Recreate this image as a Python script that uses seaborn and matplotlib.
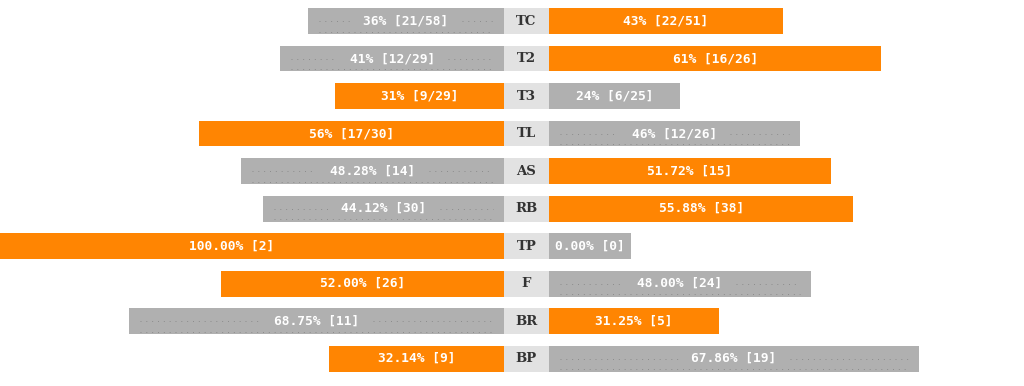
import matplotlib
matplotlib.use("Agg")
import matplotlib.pyplot as plt
import pandas as pd
import seaborn as sns

labels = ["TC", "T2", "T3", "TL", "AS", "RB", "TP", "F", "BR", "BP"]
left_pct = [36, 41, 31, 56, 48.28, 44.12, 100, 52, 68.75, 32.14]
right_pct = [43, 61, 24, 46, 51.72, 55.88, 0, 48, 31.25, 67.86]
left_txt = ["36% [21/58]", "41% [12/29]", "31% [9/29]", "56% [17/30]", "48.28% [14]",
            "44.12% [30]", "100.00% [2]", "52.00% [26]", "68.75% [11]", "32.14% [9]"]
right_txt = ["43% [22/51]", "61% [16/26]", "24% [6/25]", "46% [12/26]", "51.72% [15]",
             "55.88% [38]", "0.00% [0]", "48.00% [24]", "31.25% [5]", "67.86% [19]"]
# which side is highlighted in orange
highlight = ["R", "R", "L", "L", "R", "R", "L", "L", "R", "L"]

ORANGE = "#ff8502"
GREY = "#b0b0b0"
MID = "#e2e2e2"
GAP = 8.26      # width of the centre label column, in % units
MIN_W = 15      # minimum drawn width so empty bars stay visible
BAR_H = 0.69

rows = []
for i, lab in enumerate(labels):
    lc = ORANGE if highlight[i] == "L" else GREY
    rc = ORANGE if highlight[i] == "R" else GREY
    rows.append({"label": lab, "side": "L", "x": -(max(left_pct[i], MIN_W) + GAP / 2), "c": lc})
    rows.append({"label": lab, "side": "R", "x": max(right_pct[i], MIN_W) + GAP / 2, "c": rc})
df = pd.DataFrame(rows)
df["key"] = df["label"] + df["side"]

fig = plt.figure(figsize=(10.24, 3.86), dpi=100)
ax = fig.add_axes([0, 0, 1, 1])
sns.barplot(data=df, x="x", y="label", hue="key", palette=dict(zip(df["key"], df["c"])),
            order=labels, orient="h", width=BAR_H, dodge=False, legend=False,
            saturation=1, linewidth=0, ax=ax)

for i, lab in enumerate(labels):
    # centre label cell
    ax.barh(i, GAP, left=-GAP / 2, height=BAR_H, color=MID, linewidth=0, zorder=3)
    ax.text(0, i, lab, ha="center", va="center", fontsize=9.5, fontweight="bold",
            family="DejaVu Serif", color="#333333", zorder=4)
    for side, val, txt in (("L", left_pct[i], left_txt[i]), ("R", right_pct[i], right_txt[i])):
        w = max(val, MIN_W)
        if side == "L":
            x0, x1 = -(w + GAP / 2), -GAP / 2
        else:
            x0, x1 = GAP / 2, w + GAP / 2
        cx = (x0 + x1) / 2
        if highlight[i] != side and w > 25:
            # faint dotted texture on the grey bars
            half = len(txt) * 0.8 + 1.5
            dot = dict(color="#8c8c8c", linestyle=(0, (1, 5)), linewidth=0.7, zorder=2)
            ax.plot([x0 + 2, cx - half], [i, i], **dot)
            ax.plot([cx + half, x1 - 2], [i, i], **dot)
            ax.plot([x0 + 2, x1 - 2], [i + 0.28, i + 0.28], **dot)
        ax.text(cx, i, txt, ha="center", va="center", fontsize=9.3, fontweight="bold",
                family="DejaVu Sans Mono", color="white", zorder=4)

ax.set_xlim(-96.6, 91.3)
ax.set_ylim(9.73, -0.56)
ax.axis("off")
fig.savefig("out.png", dpi=100)
